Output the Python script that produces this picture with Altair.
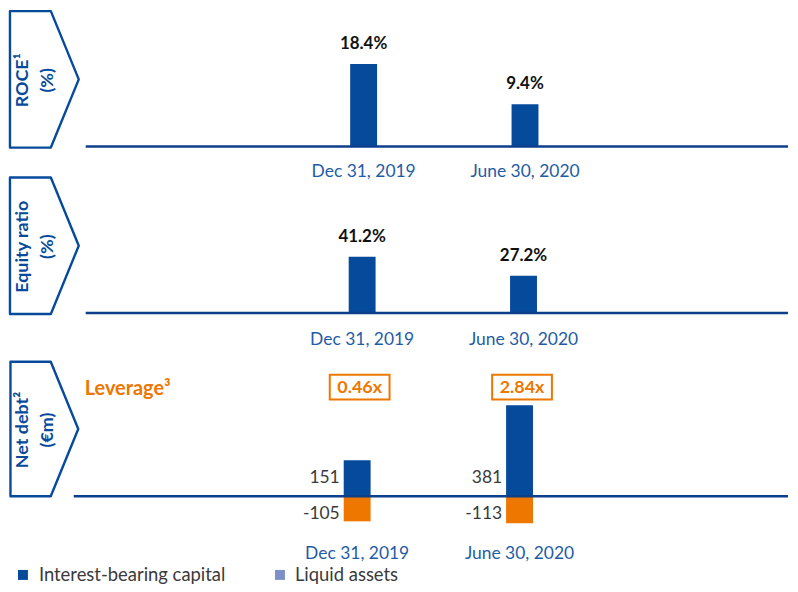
import altair as alt
import pandas as pd

# ---------------- data ----------------
categories = ["Dec 31, 2019", "June 30, 2020"]
roce_values = [18.4, 9.4]
roce_labels = ["18.4%", "9.4%"]
equity_values = [41.2, 27.2]
equity_labels = ["41.2%", "27.2%"]
series_names = ["Interest-bearing capital", "Liquid assets"]
interest_bearing = [151, 381]
liquid_assets = [-105, -113]
netdebt_labels_pos = ["151", "381"]
netdebt_labels_neg = ["-105", "-113"]
leverage_labels = ["0.46x", "2.84x"]
leverage_title = "Leverage³"
panel_titles = [["ROCE¹", "(%)"], ["Equity ratio", "(%)"], ["Net debt²", "(€m)"]]
legend_labels = ["Interest-bearing capital", "Liquid assets"]

# ---------------- style ----------------
BLUE = "#064A9C"
ORANGE = "#EE7700"
LINE = "#0C3F8C"
CAT_BLUE = "#1F5CA6"
GREY = "#3A3A3A"
LEGEND_LIGHT = "#7D90C8"
FONT = "Lato"
W = 782
BAR_W = 27
CAT_SIZE = 17.5

CHEVRON = "M -0.504 -1 L 0.095 -1 L 0.504 0 L 0.095 1 L -0.504 1 Z"
BOX = "M -1 -0.417 L 1 -0.417 L 1 0.417 L -1 0.417 Z"

one = pd.DataFrame({"k": [0]})


def xscale(c1, c2):
    d = c2 - c1
    return alt.Scale(domain=categories, range=[c1 - BAR_W / 2, c2 + BAR_W / 2],
                     paddingInner=1 - BAR_W / d, paddingOuter=0)


def chevron(title, cy, size):
    shape = alt.Chart(one).mark_point(shape=CHEVRON, filled=False, size=size, strokeWidth=2.4,
                                      strokeJoin="round", color=BLUE, opacity=1).encode(
        x=alt.value(35.5), y=alt.value(cy))
    txt = alt.Chart(one).mark_text(angle=270, font=FONT, fontWeight="bold", fontSize=18,
                                   color=BLUE, lineHeight=25, align="center",
                                   baseline="middle").encode(
        x=alt.value(14), y=alt.value(cy + 1), text=alt.value(title))
    return [shape, txt]


def simple_panel(values, labels, title, height, base_y, px_per_unit, c1, c2, rule_x0, cat_y):
    hi = base_y / px_per_unit
    lo = -(height - base_y) / px_per_unit
    df = pd.DataFrame({"cat": categories, "value": values, "label": labels})
    x = alt.X("cat:N", scale=xscale(c1, c2), axis=None)
    y = alt.Y("value:Q", scale=alt.Scale(domain=[lo, hi], nice=False, zero=False), axis=None)
    base = alt.Chart(df)
    bars = base.mark_bar(color=BLUE).encode(x=x, y=y, y2=alt.datum(0))
    vals = base.mark_text(font=FONT, fontWeight="bold", fontSize=17, color="#111111",
                          baseline="alphabetic", dy=-15).encode(x=x, y=y, text="label:N")
    cats = base.mark_text(font=FONT, fontSize=CAT_SIZE, color=CAT_BLUE, baseline="middle").encode(
        x=x, y=alt.value(cat_y), text="cat:N")
    rule = alt.Chart(one).mark_rule(color=LINE, strokeWidth=2.5).encode(
        x=alt.value(rule_x0), x2=alt.value(W), y=alt.YDatum(0, axis=None))
    layers = chevron(title, 70.5, 137 ** 2) + [bars, rule, vals, cats]
    return alt.layer(*layers).properties(width=W, height=height)


p1 = simple_panel(roce_values, roce_labels, panel_titles[0], 167, 138, 4.51, 356, 518, 77, 164)
p2 = simple_panel(equity_values, equity_labels, panel_titles[1], 180, 138, 1.37, 354.5, 516.5, 77, 165)

# ---------------- net debt panel ----------------
H3 = 229
BASE3 = 142
PPU3 = 0.24
hi3 = BASE3 / PPU3
lo3 = -(H3 - BASE3) / PPU3
nd = pd.DataFrame({
    "cat": categories * 2,
    "series": [series_names[0]] * 2 + [series_names[1]] * 2,
    "value": interest_bearing + liquid_assets,
    "label": netdebt_labels_pos + netdebt_labels_neg,
})
x3 = alt.X("cat:N", scale=xscale(349.5, 512.5), axis=None)
y3 = alt.Y("value:Q", scale=alt.Scale(domain=[lo3, hi3], nice=False, zero=False), axis=None)
b3 = alt.Chart(nd)
bars3 = b3.mark_bar().encode(
    x=x3, y=y3, y2=alt.datum(0),
    color=alt.Color("series:N", scale=alt.Scale(domain=series_names, range=[BLUE, ORANGE]),
                    legend=None))
rule3 = alt.Chart(one).mark_rule(color=LINE, strokeWidth=2.5).encode(
    x=alt.value(65), x2=alt.value(W), y=alt.YDatum(0, axis=None))
pos_lab = b3.transform_filter(alt.datum.value > 0).mark_text(
    font=FONT, fontSize=17.5, color=GREY, align="right", baseline="middle", dx=-17.5).encode(
    x=x3, y=alt.value(124), text="label:N")
neg_lab = b3.transform_filter(alt.datum.value < 0).mark_text(
    font=FONT, fontSize=17.5, color=GREY, align="right", baseline="middle", dx=-17.5).encode(
    x=x3, y=alt.value(160), text="label:N")
cats3 = alt.Chart(pd.DataFrame({"cat": categories})).mark_text(
    font=FONT, fontSize=CAT_SIZE, color=CAT_BLUE, baseline="middle").encode(
    x=x3, y=alt.value(200), text="cat:N")
lev_df = pd.DataFrame({"cat": categories, "lev": leverage_labels})
lev_box = alt.Chart(lev_df).mark_point(shape=BOX, filled=False, size=60 ** 2, strokeWidth=2,
                                       color=ORANGE, opacity=1, xOffset=2.5).encode(
    x=x3, y=alt.value(32.5))
lev_txt = alt.Chart(lev_df).mark_text(font=FONT, fontWeight="bold", fontSize=18, color=ORANGE,
                                      baseline="middle", dx=2.5).encode(
    x=x3, y=alt.value(33), text="lev:N")
lev_title = alt.Chart(one).mark_text(font=FONT, fontWeight="bold", fontSize=20, color=ORANGE,
                                     align="left", baseline="middle").encode(
    x=alt.value(76), y=alt.value(34), text=alt.value(leverage_title))
LEG_Y = 221
leg_sq1 = alt.Chart(one).mark_square(size=100, color=BLUE, opacity=1).encode(
    x=alt.value(14), y=alt.value(LEG_Y))
leg_sq2 = alt.Chart(one).mark_square(size=100, color=LEGEND_LIGHT, opacity=1).encode(
    x=alt.value(272), y=alt.value(LEG_Y))
leg_t1 = alt.Chart(one).mark_text(font=FONT, fontSize=18.5, color=GREY, align="left",
                                  baseline="middle").encode(
    x=alt.value(30), y=alt.value(LEG_Y), text=alt.value(legend_labels[0]))
leg_t2 = alt.Chart(one).mark_text(font=FONT, fontSize=18.5, color=GREY, align="left",
                                  baseline="middle").encode(
    x=alt.value(287), y=alt.value(LEG_Y), text=alt.value(legend_labels[1]))

p3 = alt.layer(*(chevron(panel_titles[2], 74.5, 135 ** 2) +
                 [bars3, rule3, pos_lab, neg_lab, cats3, lev_box, lev_txt, lev_title,
                  leg_sq1, leg_sq2, leg_t1, leg_t2])).properties(width=W, height=H3)

chart = alt.vconcat(p1, p2, p3, spacing=0, bounds="flush").properties(
    padding={"left": 0, "top": 0, "right": 0, "bottom": 0}).configure_view(stroke=None)

chart.save("out.html", embed_options={"renderer": "svg", "actions": False})
